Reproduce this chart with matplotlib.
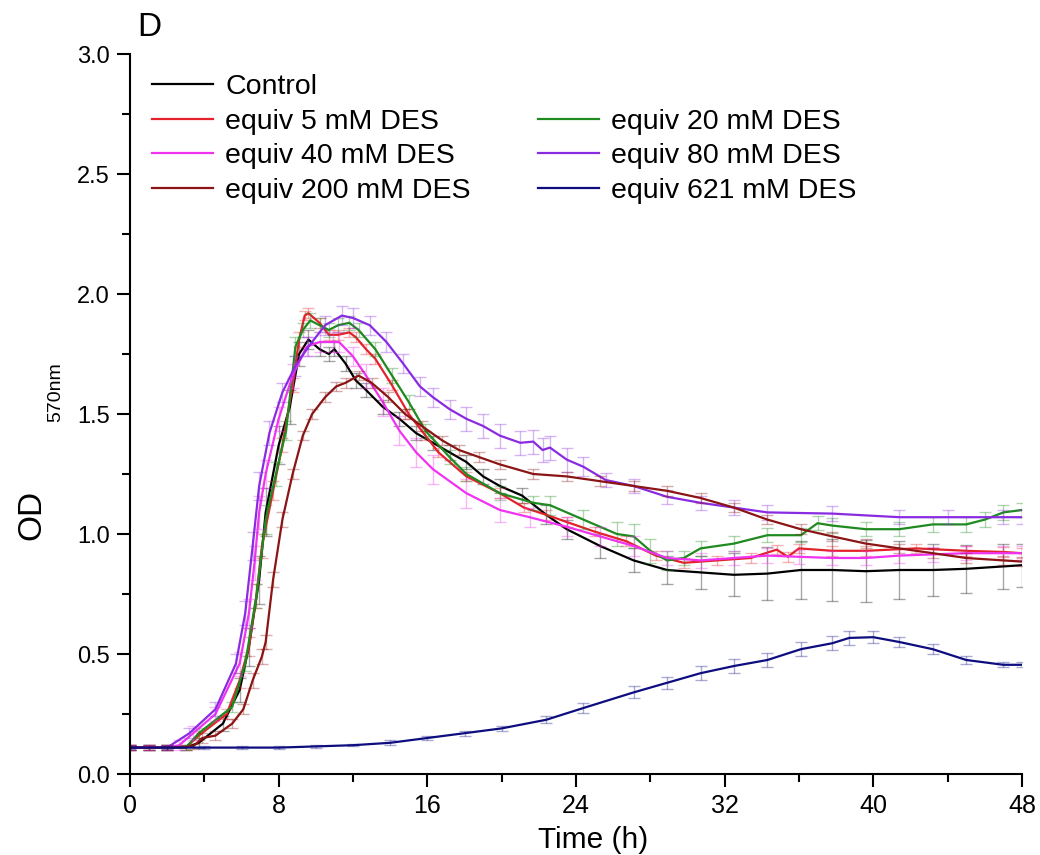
import matplotlib.pyplot as plt
from matplotlib.lines import Line2D
from matplotlib.ticker import MultipleLocator

plt.rcParams['font.family'] = ['Liberation Sans', 'DejaVu Sans']

# --- data (time in h, OD570) ---
t_ctrl = [0, 1, 2, 3, 3.7, 5, 5.9, 6.4, 6.95, 7.3, 8.0, 8.6, 9.1, 9.6, 10.2, 10.7, 11.0, 11.6,
          12.15, 12.7, 13.6, 14.5, 15.4, 16.3, 17.2, 18.1, 19, 19.9, 21.1, 22.4, 23.5, 25.3,
          27.1, 28.9, 30.7, 32.5, 34.3, 36.1, 37.8, 39.6, 41.4, 43.2, 45, 47, 48]
od_ctrl = [0.11, 0.11, 0.11, 0.11, 0.13, 0.21, 0.35, 0.53, 0.81, 1.09, 1.37, 1.53, 1.75, 1.81,
           1.77, 1.75, 1.77, 1.71, 1.64, 1.60, 1.53, 1.48, 1.42, 1.38, 1.34, 1.30, 1.24, 1.20,
           1.16, 1.08, 1.02, 0.95, 0.89, 0.85, 0.84, 0.83, 0.835, 0.85, 0.85, 0.845, 0.85,
           0.85, 0.855, 0.865, 0.87]
sd_ctrl = [0.01, 0.01, 0.01, 0.01, 0.02, 0.03, 0.05, 0.08, 0.10, 0.10, 0.08, 0.07, 0.05, 0.04,
           0.03, 0.03, 0.03, 0.03, 0.03, 0.03, 0.03, 0.03, 0.03, 0.03, 0.03, 0.03, 0.03, 0.03,
           0.03, 0.04, 0.04, 0.05, 0.05, 0.06, 0.07, 0.09, 0.11, 0.12, 0.13, 0.13, 0.12,
           0.11, 0.10, 0.095, 0.09]

t_5 = [0, 1, 2, 3, 3.7, 5.2, 5.9, 6.4, 6.8, 7.1, 7.7, 8.2, 8.75, 9.1, 9.4, 9.6, 10.2, 10.7,
       11.2, 11.8, 12.15, 12.7, 13.2, 14.1, 15, 15.9, 16.6, 18.1, 19.9, 21.2, 22.4, 23.5, 25,
       26.7, 28.3, 29.8, 31.6, 33.4, 34.8, 35.4, 36.0, 37.8, 39.6, 42.3, 45, 47, 48]
od_5 = [0.11, 0.11, 0.11, 0.11, 0.16, 0.25, 0.39, 0.53, 0.74, 0.95, 1.18, 1.37, 1.62, 1.81,
        1.91, 1.92, 1.88, 1.83, 1.83, 1.84, 1.82, 1.77, 1.73, 1.62, 1.50, 1.41, 1.34, 1.24,
        1.17, 1.11, 1.08, 1.05, 1.01, 0.97, 0.91, 0.88, 0.89, 0.90, 0.935, 0.905, 0.94, 0.93,
        0.93, 0.94, 0.93, 0.925, 0.92]
sd_5 = [0.01, 0.01, 0.01, 0.01, 0.02, 0.02, 0.03, 0.04, 0.05, 0.05, 0.04, 0.03, 0.03, 0.03,
        0.02, 0.02, 0.02, 0.02, 0.02, 0.02, 0.02, 0.02, 0.02, 0.02, 0.02, 0.02, 0.02, 0.02,
        0.02, 0.02, 0.02, 0.02, 0.02, 0.02, 0.02, 0.02, 0.02, 0.02, 0.02, 0.02, 0.02, 0.02,
        0.02, 0.02, 0.02, 0.02, 0.02]

t_20 = [0, 1, 2, 3, 3.7, 5.5, 6.2, 6.8, 7.3, 7.85, 8.4, 8.9, 9.3, 9.7, 10.2, 10.7, 11.2, 11.8,
        12.3, 13.2, 14.1, 15, 15.9, 17.2, 18.1, 19.9, 21.7, 22.6, 24.4, 26.2, 27.1, 28, 28.9,
        29.8, 30.7, 32.5, 34.3, 36.1, 37, 37.8, 39.6, 41.4, 43.2, 45, 46, 47, 48]
od_20 = [0.11, 0.11, 0.11, 0.11, 0.17, 0.28, 0.46, 0.74, 1.06, 1.25, 1.43, 1.78, 1.85, 1.89,
         1.87, 1.85, 1.87, 1.88, 1.85, 1.77, 1.66, 1.55, 1.43, 1.32, 1.25, 1.17, 1.13, 1.12,
         1.06, 1.00, 0.99, 0.93, 0.89, 0.90, 0.94, 0.96, 0.995, 0.995, 1.045, 1.035, 1.02,
         1.02, 1.04, 1.04, 1.06, 1.09, 1.10]
sd_20 = [0.01, 0.01, 0.01, 0.01, 0.02, 0.02, 0.03, 0.05, 0.06, 0.05, 0.04, 0.04, 0.03, 0.03,
         0.03, 0.03, 0.03, 0.03, 0.03, 0.03, 0.03, 0.03, 0.03, 0.03, 0.03, 0.03, 0.03, 0.04,
         0.04, 0.05, 0.05, 0.05, 0.04, 0.03, 0.03, 0.03, 0.03, 0.03, 0.03, 0.03, 0.03,
         0.03, 0.03, 0.03, 0.03, 0.03, 0.03]

t_40 = [0, 1, 2, 2.65, 3.4, 4.6, 5.9, 6.4, 6.7, 6.95, 7.3, 8.0, 8.75, 9.5, 10.2, 10.9, 11.25,
        12, 12.7, 13.6, 14.5, 15.4, 16.3, 18.1, 19.9, 21.5, 23.5, 25.3, 27.1, 28.9, 30.7, 32.5,
        34.3, 36, 37.8, 39.6, 41.4, 43.2, 45, 47, 48]
od_40 = [0.11, 0.11, 0.11, 0.12, 0.17, 0.25, 0.46, 0.67, 0.88, 1.09, 1.25, 1.48, 1.66, 1.78,
         1.80, 1.80, 1.80, 1.74, 1.66, 1.55, 1.43, 1.34, 1.27, 1.17, 1.10, 1.07, 1.03, 0.99,
         0.95, 0.90, 0.89, 0.90, 0.91, 0.905, 0.90, 0.90, 0.91, 0.915, 0.92, 0.92, 0.92]
sd_40 = [0.01, 0.01, 0.01, 0.02, 0.03, 0.03, 0.05, 0.06, 0.07, 0.07, 0.06, 0.05, 0.05, 0.04,
         0.04, 0.04, 0.04, 0.04, 0.05, 0.06, 0.06, 0.06, 0.06, 0.06, 0.05, 0.04, 0.04, 0.04,
         0.04, 0.03, 0.03, 0.03, 0.03, 0.03, 0.03, 0.03, 0.03, 0.03, 0.03, 0.03, 0.03]

t_80 = [0, 1, 2, 3.2, 4.6, 5.7, 6.2, 6.6, 6.95, 7.5, 8.2, 8.9, 9.6, 10.5, 11.4, 12.0, 12.9,
        13.8, 14.7, 15.6, 16.3, 17.2, 18.1, 19, 19.9, 21, 21.7, 22.2, 22.6, 23.5, 24.4, 25.6,
        27.1, 28.9, 30.7, 32.5, 34.3, 37.8, 41.4, 44, 47, 48]
od_80 = [0.11, 0.11, 0.11, 0.17, 0.27, 0.46, 0.67, 0.95, 1.20, 1.42, 1.59, 1.70, 1.78, 1.87,
         1.91, 1.90, 1.87, 1.80, 1.71, 1.615, 1.57, 1.52, 1.48, 1.45, 1.41, 1.38, 1.385, 1.35,
         1.36, 1.31, 1.28, 1.225, 1.20, 1.155, 1.13, 1.11, 1.09, 1.085, 1.07, 1.07, 1.07, 1.07]
sd_80 = [0.01, 0.01, 0.01, 0.02, 0.03, 0.04, 0.05, 0.06, 0.06, 0.05, 0.04, 0.04, 0.04, 0.04,
         0.04, 0.04, 0.04, 0.04, 0.04, 0.04, 0.04, 0.04, 0.05, 0.05, 0.05, 0.05, 0.05, 0.05,
         0.05, 0.05, 0.04, 0.03, 0.03, 0.03, 0.03, 0.03, 0.03, 0.03, 0.03, 0.03, 0.03, 0.03]

t_200 = [0, 1, 2, 3.4, 3.9, 4.6, 5.5, 6.1, 6.6, 7.1, 7.3, 7.7, 8.2, 8.75, 9.3, 9.8, 10.5,
         11.1, 11.6, 12.3, 13.0, 13.9, 14.8, 15.7, 16.8, 17.7, 18.8, 19.9, 21.7, 23.5, 25.3,
         27.1, 28.9, 30.7, 32.5, 34.3, 36.1, 37.8, 39.6, 41.4, 43.2, 45, 47, 48]
od_200 = [0.11, 0.11, 0.11, 0.115, 0.15, 0.16, 0.21, 0.27, 0.39, 0.49, 0.55, 0.81, 1.06,
          1.25, 1.41, 1.50, 1.57, 1.615, 1.63, 1.66, 1.63, 1.57, 1.50, 1.45, 1.39, 1.35, 1.32,
          1.29, 1.25, 1.24, 1.22, 1.20, 1.18, 1.15, 1.11, 1.06, 1.02, 0.99, 0.96, 0.94, 0.92,
          0.90, 0.89, 0.885]
sd_200 = [0.01, 0.01, 0.01, 0.01, 0.02, 0.02, 0.02, 0.02, 0.03, 0.03, 0.03, 0.03, 0.03,
          0.02, 0.02, 0.02, 0.02, 0.02, 0.02, 0.02, 0.02, 0.02, 0.02, 0.02, 0.02, 0.02, 0.02,
          0.02, 0.02, 0.02, 0.02, 0.02, 0.02, 0.02, 0.02, 0.02, 0.02, 0.02, 0.02, 0.02, 0.02,
          0.02, 0.02, 0.02]

t_621 = [0, 2, 4, 6, 8, 10, 12, 14, 16, 18, 20, 22.4, 24.4, 27.1, 28.9, 30.7, 32.5, 34.3,
         36.1, 37.8, 38.7, 40, 41.4, 43.2, 45, 47, 48]
od_621 = [0.11, 0.11, 0.11, 0.11, 0.11, 0.115, 0.12, 0.13, 0.15, 0.17, 0.19, 0.226, 0.275,
          0.34, 0.38, 0.42, 0.45, 0.475, 0.52, 0.545, 0.567, 0.57, 0.55, 0.52, 0.475, 0.455,
          0.455]
sd_621 = [0.005, 0.005, 0.005, 0.005, 0.005, 0.005, 0.005, 0.01, 0.01, 0.01, 0.01, 0.015,
          0.02, 0.025, 0.025, 0.03, 0.03, 0.03, 0.03, 0.03, 0.03, 0.025, 0.02, 0.02, 0.015,
          0.01, 0.01]

series = [
    ('Control', t_ctrl, od_ctrl, sd_ctrl, '#000000'),
    ('equiv 5 mM DES', t_5, od_5, sd_5, '#e3222b'),
    ('equiv 20 mM DES', t_20, od_20, sd_20, '#1f8a1f'),
    ('equiv 40 mM DES', t_40, od_40, sd_40, '#f033f0'),
    ('equiv 80 mM DES', t_80, od_80, sd_80, '#8a2be2'),
    ('equiv 200 mM DES', t_200, od_200, sd_200, '#8b1414'),
    ('equiv 621 mM DES', t_621, od_621, sd_621, '#0d0d80'),
]

W, H = 1040, 855
fig = plt.figure(figsize=(W / 100, H / 100), dpi=100)
ax = fig.add_axes([130 / W, 1 - 774 / H, 892 / W, 720 / H])

handles = {}
for name, t, od, sd, col in series:
    ax.errorbar(t, od, yerr=sd, fmt='none', ecolor=col, alpha=0.35, elinewidth=1,
                capsize=4, capthick=1)
    ln, = ax.plot(t, od, color=col, lw=1.6, label=name)
    handles[name] = ln

ax.set_xlim(0, 48)
ax.set_ylim(0, 3.0)
ax.xaxis.set_major_locator(MultipleLocator(8))
ax.xaxis.set_minor_locator(MultipleLocator(4))
ax.yaxis.set_major_locator(MultipleLocator(0.5))
ax.yaxis.set_minor_locator(MultipleLocator(0.25))
ax.yaxis.set_major_formatter(plt.FormatStrFormatter('%.1f'))
ax.tick_params(which='major', direction='out', length=9.5, width=1.5, pad=5)
ax.tick_params(which='minor', direction='out', length=5.5, width=1.5)
ax.tick_params(axis='x', labelsize=18)
ax.tick_params(axis='y', labelsize=17)
for s in ['top', 'right']:
    ax.spines[s].set_visible(False)
for s in ['left', 'bottom']:
    ax.spines[s].set_linewidth(1.5)

ax.set_xlabel('Time (h)', fontsize=21.5)
ax.xaxis.set_label_coords((593 - 130) / 892, -0.072)

fig.text(32 / W, 1 - 515 / H, 'OD', rotation=90, fontsize=24, ha='center', va='center')
fig.text(56 / W, 1 - 392 / H, '570nm', rotation=90, fontsize=14, ha='center', va='center')
fig.text(137 / W, 1 - 36 / H, 'D', fontsize=24, ha='left', va='baseline')

blank = Line2D([], [], color='none')
order = ['Control', 'equiv 5 mM DES', 'equiv 40 mM DES', 'equiv 200 mM DES',
         None, 'equiv 20 mM DES', 'equiv 80 mM DES', 'equiv 621 mM DES']
hs = [handles[n] if n else blank for n in order]
ls = [n if n else ' ' for n in order]
ax.legend(hs, ls, ncol=2, loc='upper left', bbox_to_anchor=(152 / W, 1 - 74 / H),
          bbox_transform=fig.transFigure, frameon=False, fontsize=20.5,
          handlelength=2.15, handletextpad=0.42, labelspacing=0.3, columnspacing=2.35,
          borderpad=0, borderaxespad=0)

fig.savefig('out.png', dpi=100)
